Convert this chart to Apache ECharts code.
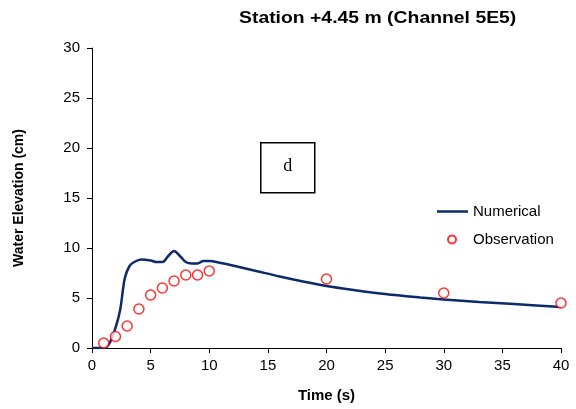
<!DOCTYPE html>
<html>
<head>
<meta charset="utf-8">
<script src="https://cdn.jsdelivr.net/npm/echarts@6/dist/echarts.min.js"></script>
<style>
  html, body { margin: 0; padding: 0; background: #fff; }
  #chart { width: 576px; height: 409px; }
</style>
</head>
<body>
<div id="chart"></div>
<script>
// numerical model curve (time s, elevation cm)
const numTime = [0, 1, 1.5, 2, 2.4, 2.8, 3.2, 3.6, 4.2, 5, 5.5, 6, 6.5, 7, 7.5, 8, 8.5, 9, 9.5, 10, 11, 12, 14, 16, 18, 20, 22, 25, 28, 30, 33, 36, 40]
const numElev = [0, 0, 0.5, 2, 3.8, 7, 8.2, 8.6, 8.85, 8.75, 8.6, 8.6, 9.2, 9.7, 9.2, 8.6, 8.45, 8.45, 8.7, 8.7, 8.5, 8.25, 7.7, 7.15, 6.65, 6.2, 5.85, 5.4, 5.05, 4.85, 4.6, 4.4, 4.1]

// gauge observations
const obsTime = [1, 2, 3, 4, 5, 6, 7, 8, 9, 10, 20, 30, 40]
const obsElev = [0.5, 1.15, 2.2, 3.9, 5.3, 6.0, 6.7, 7.3, 7.3, 7.7, 6.9, 5.5, 4.5]

const chart = echarts.init(document.getElementById('chart'))
const font = '"Liberation Sans", Arial, sans-serif'

const option = {
  animation: false,
  textStyle: { fontFamily: font, color: '#000' },
  grid: { left: 92, right: 15, top: 48, bottom: 61 },
  legend: [
    {
      orient: 'vertical',
      left: 437,
      top: 204,
      padding: 0,
      icon: 'rect',
      itemWidth: 31,
      itemHeight: 2.5,
      textStyle: { fontFamily: font, fontSize: 15, color: '#000' },
      data: ['Numerical']
    },
    {
      orient: 'vertical',
      left: 447,
      top: 232,
      padding: 0,
      itemWidth: 8,
      itemHeight: 8,
      textStyle: { fontFamily: font, fontSize: 15, color: '#000', padding: [0, 0, 0, 12] },
      data: ['Observation']
    }
  ],
  xAxis: {
    type: 'value',
    min: 0,
    max: 40,
    interval: 5,
    name: 'Time (s)',
    nameLocation: 'middle',
    nameGap: 40,
    nameTextStyle: { fontFamily: font, fontSize: 15, fontWeight: 'bold', color: '#000' },
    axisLine: { lineStyle: { color: '#000', width: 1 } },
    axisTick: { show: true, length: 5, lineStyle: { color: '#000' } },
    axisLabel: { fontFamily: font, fontSize: 15, color: '#000', margin: 10 },
    splitLine: { show: false }
  },
  yAxis: {
    type: 'value',
    min: 0,
    max: 30,
    interval: 5,
    name: 'Water Elevation (cm)',
    nameLocation: 'middle',
    nameGap: 66,
    nameTextStyle: { fontFamily: font, fontSize: 14, fontWeight: 'bold', color: '#000' },
    axisLine: { show: true, lineStyle: { color: '#000', width: 1 } },
    axisTick: { show: true, length: 5, lineStyle: { color: '#000' } },
    axisLabel: { fontFamily: font, fontSize: 15, color: '#000', margin: 12 },
    splitLine: { show: false }
  },
  graphic: [
    {
      type: 'text',
      x: 239,
      y: 10,
      scaleX: 1.14,
      style: {
        text: 'Station +4.45 m (Channel 5E5)',
        font: 'bold 17px "Liberation Sans", Arial, sans-serif',
        fill: '#000'
      }
    },
    {
      type: 'group',
      left: 260,
      top: 142,
      children: [
        {
          type: 'rect',
          shape: { x: 0, y: 0, width: 54, height: 50 },
          style: { fill: '#fff', stroke: '#000', lineWidth: 1.5 }
        },
        {
          type: 'text',
          x: 27,
          y: 24,
          style: {
            text: 'd',
            font: '18px "Liberation Serif", "DejaVu Serif", serif',
            fill: '#000',
            align: 'center',
            verticalAlign: 'middle'
          }
        }
      ]
    }
  ],
  series: [
    {
      name: 'Numerical',
      type: 'line',
      smooth: 0.35,
      symbol: 'none',
      lineStyle: { color: '#0d2a6b', width: 2.5 },
      itemStyle: { color: '#0d2a6b' },
      data: numTime.map((t, i) => [t, numElev[i]]),
      z: 2
    },
    {
      name: 'Observation',
      type: 'scatter',
      symbol: 'circle',
      symbolSize: 10,
      itemStyle: { color: '#fff', borderColor: '#ff0000', borderWidth: 1.5 },
      data: obsTime.map((t, i) => [t, obsElev[i]]),
      z: 3
    }
  ]
}

chart.setOption(option)
</script>
</body>
</html>
